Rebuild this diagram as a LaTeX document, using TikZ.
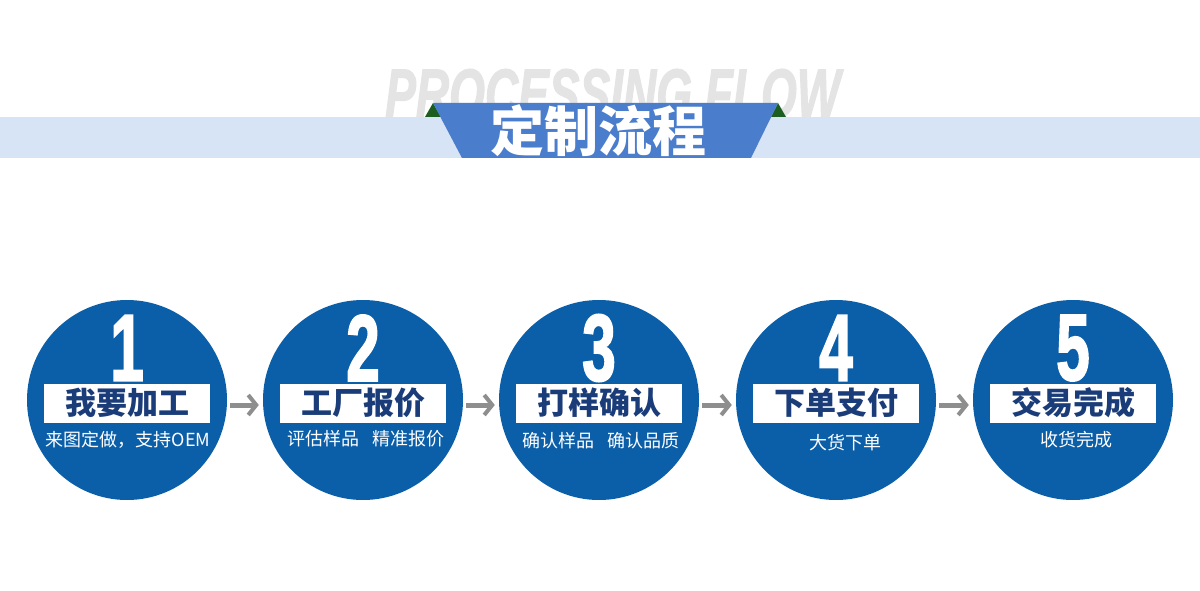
\documentclass[tikz,border=0pt]{standalone}
\usepackage{fontspec}
\usepackage{graphicx}
\setmainfont{Liberation Sans}
\newfontfamily\cjk{Noto Sans CJK SC}
\newfontfamily\numfont{Liberation Sans}[BoldFeatures={FakeBold=2.5}]
\newfontfamily\ghostfont{Liberation Sans}[BoldItalicFeatures={FakeBold=2}]
\usetikzlibrary{arrows.meta}
\definecolor{cblue}{HTML}{0B5EA8}
\definecolor{navy}{HTML}{1A3C78}
\definecolor{band}{HTML}{D6E4F5}
\definecolor{trap}{HTML}{4A7DCB}
\definecolor{dgreen}{HTML}{1B5E20}
\definecolor{ghost}{HTML}{E4E4E4}
\definecolor{agrey}{HTML}{8E8E8E}
\newcommand\bignum[1]{\scalebox{0.64}[1]{\numfont\bfseries\fontsize{94}{94}\selectfont #1}}
\tikzset{
  circ/.style={circle, fill=cblue, minimum size=200pt, inner sep=0pt},
  num/.style={text=white, inner sep=0pt},
  lab/.style={fill=white, minimum width=166pt, minimum height=39pt, inner sep=0pt,
    text=navy, font=\cjk\bfseries\fontsize{31}{31}\selectfont},
  sub/.style={text=white, inner sep=0pt, font=\cjk\fontsize{18}{18}\selectfont},
  arr/.style={agrey, line width=5pt, -{Straight Barb[length=8pt,width=20pt,line width=4pt]}},
}
\begin{document}
\begin{tikzpicture}[x=1pt,y=-1pt]
\fill[white] (0,0) rectangle (1200,591);
\useasboundingbox (0,0) rectangle (1200,591);
% header
\node[anchor=south west, inner sep=0pt, text=ghost] (ghosttxt) at (385,118)
  {\resizebox{455pt}{48pt}{\ghostfont\bfseries\itshape PROCESSING FLOW}};
\fill[band] (0,117) rectangle (1200,158);
\fill[dgreen] (425,117) -- (433,103) -- (441,117) -- cycle;
\fill[dgreen] (771,117) -- (778,103) -- (786,117) -- cycle;
\fill[trap] (433,103) -- (778,103) -- (751,158) -- (462,158) -- cycle;
\node[text=white, inner sep=0pt, font=\cjk\bfseries\fontsize{54}{54}\selectfont] (title) at (598,131) {定制流程};
% circles
\foreach \i/\x in {1/127,2/363,3/599,4/836,5/1073}{
  \node[circ] (c\i) at (\x,400) {};
  \node[num] (n\i) at (\x,348) {\bignum{\i}};
}
\node[lab] (l1) at (127,403) {我要加工};
\node[lab] (l2) at (363,403) {工厂报价};
\node[lab] (l3) at (599,403) {打样确认};
\node[lab] (l4) at (836,403) {下单支付};
\node[lab] (l5) at (1073,403) {交易完成};
\node[sub] (s1) at (128,440) {来图定做，支持OEM};
\node[sub] (s2) at (366,439) {评估样品\hspace{14pt}精准报价};
\node[sub] (s3) at (601,441) {确认样品\hspace{14pt}确认品质};
\node[sub] (s4) at (845,443) {大货下单};
\node[sub] (s5) at (1076,440) {收货完成};
% arrows
\foreach \a/\b in {1/2,2/3,3/4,4/5}{
  \draw[arr] ([shift={(3,5)}]c\a.east) -- ([shift={(-4,5)}]c\b.west);
}
\end{tikzpicture}
\end{document}
